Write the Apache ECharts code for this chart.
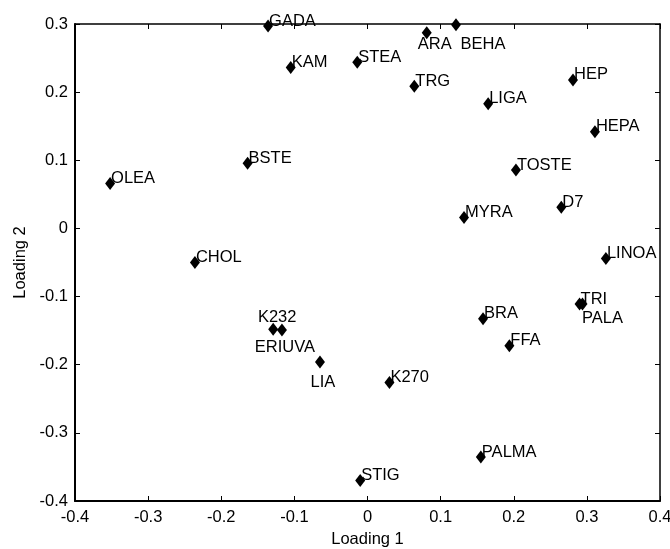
<!DOCTYPE html>
<html>
<head>
<meta charset="utf-8">
<script src="https://cdn.jsdelivr.net/npm/echarts@6/dist/echarts.min.js"></script>
<style>html,body{margin:0;padding:0;background:#fff}#c{width:670px;height:549px}</style>
</head>
<body>
<div id="c"></div>
<script>
// ---- data ----
const names = ['GADA','KAM','BSTE','OLEA','CHOL','BEHA','ARA','STEA','TRG','LIGA','HEP','HEPA','TOSTE','D7','MYRA','LINOA','K232','ERIUVA','LIA','TRI','PALA','BRA','FFA','K270','PALMA','STIG'];
const loading1 = [-0.136,-0.105,-0.164,-0.352,-0.236,0.121,0.081,-0.014,0.064,0.165,0.281,0.311,0.203,0.265,0.132,0.326,-0.129,-0.117,-0.065,0.290,0.294,0.158,0.194,0.030,0.155,-0.010];
const loading2 = [0.297,0.236,0.0955,0.066,-0.050,0.299,0.287,0.244,0.2085,0.183,0.218,0.142,0.0857,0.031,0.016,-0.044,-0.148,-0.149,-0.196,-0.111,-0.111,-0.1325,-0.172,-0.226,-0.3355,-0.370];
const xTicks = {min:-0.4, max:0.4, interval:0.1};
const yTicks = {min:-0.4, max:0.3, interval:0.1};

// ---- label placement (style only) ----
const SYMW = 10, SYMH = 13;
const labelOffsets = {
  'ARA':   {align:'center', offset:[8, 12]},
  'BEHA':  {align:'center', offset:[27, 20]},
  'K232':  {align:'center', offset:[4, -12]},
  'ERIUVA':{align:'center', offset:[3, 17]},
  'LIA':   {align:'center', offset:[3, 20]},
  'PALA':  {align:'center', offset:[20, 14]}
};

const FONT = "'Liberation Sans', Arial, sans-serif";
const FS = 16.5;

const data = names.map((n, i) => {
  const o = labelOffsets[n] || {align:'left', offset:[1, -5]};
  return {
    value: [loading1[i], loading2[i]],
    name: n,
    label: {align: o.align, verticalAlign:'middle',
            position: [SYMW/2 + o.offset[0], SYMH/2 + o.offset[1]]}
  };
});

const chart = echarts.init(document.getElementById('c'), null, {renderer:'canvas'});
const fmt = v => String(+v.toFixed(1));
const lineThick = {show:true, onZero:false, lineStyle:{color:'#000', width:2}};
const lineThin = {show:true, onZero:false, lineStyle:{color:'#000', width:1.5}};
const tick = {show:true, inside:true, length:5, lineStyle:{color:'#000', width:1}};

chart.setOption({
  animation:false,
  backgroundColor:'#fff',
  grid:{left:75, right:10, top:24, bottom:48, containLabel:false, outerBoundsMode:'none'},
  xAxis:[
    {type:'value', position:'bottom', min:xTicks.min, max:xTicks.max, interval:xTicks.interval,
     name:'Loading 1', nameLocation:'middle', nameGap:30,
     nameTextStyle:{color:'#000', fontFamily:FONT, fontSize:FS},
     axisLine:lineThick, axisTick:tick, splitLine:{show:false},
     axisLabel:{color:'#000', fontFamily:FONT, fontSize:FS, margin:8, formatter:fmt}},
    {type:'value', position:'top', min:xTicks.min, max:xTicks.max, interval:xTicks.interval,
     axisLine:lineThin, axisTick:tick, splitLine:{show:false}, axisLabel:{show:false}}
  ],
  yAxis:[
    {type:'value', position:'left', min:yTicks.min, max:yTicks.max, interval:yTicks.interval,
     name:'Loading 2', nameLocation:'middle', nameGap:46,
     nameTextStyle:{color:'#000', fontFamily:FONT, fontSize:FS},
     axisLine:lineThick, axisTick:tick, splitLine:{show:false},
     axisLabel:{color:'#000', fontFamily:FONT, fontSize:FS, margin:7, formatter:fmt}},
    {type:'value', position:'right', min:yTicks.min, max:yTicks.max, interval:yTicks.interval,
     axisLine:lineThin, axisTick:tick, splitLine:{show:false}, axisLabel:{show:false}}
  ],
  series:[{
    type:'scatter', xAxisIndex:0, yAxisIndex:0,
    symbol:'diamond', symbolSize:[SYMW, SYMH],
    itemStyle:{color:'#000', opacity:1},
    label:{show:true, formatter:'{b}', color:'#000', textBorderWidth:0,
           fontFamily:FONT, fontSize:FS},
    labelLayout:{hideOverlap:false},
    emphasis:{disabled:true},
    data:data
  }]
});
</script>
</body>
</html>
